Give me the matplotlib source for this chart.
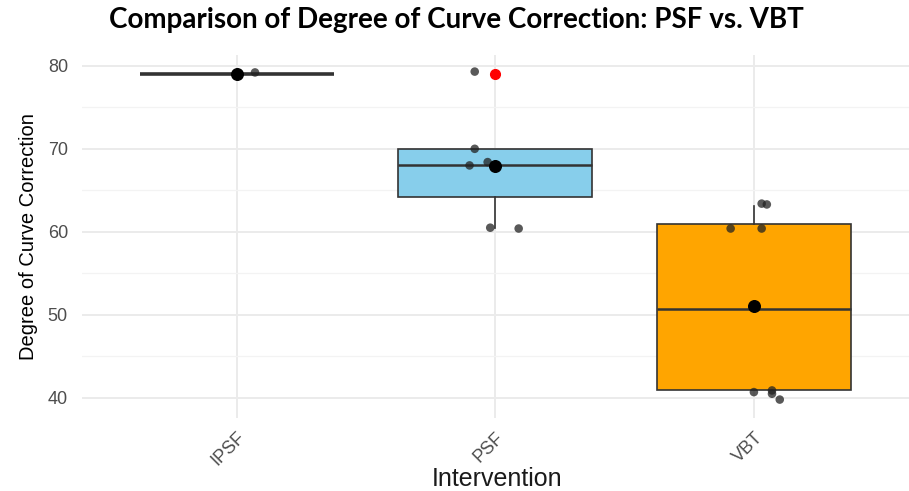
import matplotlib.pyplot as plt

# Data
groups = ["IPSF", "PSF", "VBT"]
q1 = [79.0, 64.2, 40.9]
medians = [79.0, 68.0, 50.7]
q3 = [79.0, 70.0, 61.0]
whisker_lo = [79.0, 60.5, 40.9]
whisker_hi = [79.0, 70.0, 63.1]
outliers = [[], [79.0], []]
means = [79.0, 67.9, 51.1]

# jittered observations: group index, horizontal jitter, value
obs_group = [0, 0, 1, 1, 1, 1, 1, 1, 2, 2, 2, 2, 2, 2, 2, 2]
obs_jitter = [0.0, 0.07, -0.08, -0.08, -0.10, -0.03, 0.09, -0.02,
              0.03, 0.05, -0.09, 0.03, 0.0, 0.07, 0.07, 0.10]
obs_values = [79.0, 79.2, 79.3, 70.0, 68.0, 68.4, 60.4, 60.5,
              63.4, 63.3, 60.4, 60.4, 40.7, 40.9, 40.5, 39.8]

box_colors = ["#FFFFFF", "#87CEEB", "#FFA500"]

plt.rcParams["font.family"] = "Liberation Sans"

fig = plt.figure(figsize=(9.09, 4.91), dpi=100)
ax = fig.add_axes([0.090, 0.149, 0.91, 0.739])

stats = []
for i, g in enumerate(groups):
    stats.append(dict(label=g, q1=q1[i], med=medians[i], q3=q3[i],
                      whislo=whisker_lo[i], whishi=whisker_hi[i],
                      fliers=outliers[i]))

pos = [1, 2, 3]
bp = ax.bxp(stats, positions=pos, widths=0.75, patch_artist=True,
            showcaps=False, zorder=2,
            boxprops=dict(edgecolor="#333333", linewidth=1.2),
            whiskerprops=dict(color="#333333", linewidth=1.2),
            medianprops=dict(color="#333333", linewidth=1.8),
            flierprops=dict(marker="o", markerfacecolor="red",
                            markeredgecolor="red", markersize=7))
for patch, c in zip(bp["boxes"], box_colors):
    patch.set_facecolor(c)
bp["medians"][0].set_linewidth(2.6)

xs = [pos[g] + j for g, j in zip(obs_group, obs_jitter)]
ax.scatter(xs, obs_values, s=38, color="#222222", alpha=0.75,
           edgecolors="none", zorder=3)
ax.scatter(pos, means, s=70, color="black", zorder=4)

ax.set_xlim(0.4, 3.6)
ax.set_ylim(37.6, 81.3)
ax.set_xticks(pos)
ax.set_xticklabels(groups, rotation=45, ha="right", rotation_mode="anchor")
ax.set_yticks([40, 50, 60, 70, 80])
ax.set_yticks([45, 55, 65, 75], minor=True)
ax.tick_params(axis="both", which="both", length=0, labelsize=13,
               labelcolor="#4D4D4D")
ax.tick_params(axis="x", pad=8)
ax.tick_params(axis="y", pad=10)
ax.grid(which="major", color="#EBEBEB", linewidth=1.4, zorder=0)
ax.grid(which="minor", axis="y", color="#F3F3F3", linewidth=0.9, zorder=0)
ax.set_axisbelow(True)
for s in ax.spines.values():
    s.set_visible(False)

ax.set_xlabel("Intervention", fontsize=18, color="#1A1A1A")
ax.xaxis.set_label_coords(0.502, -0.135)
ax.set_ylabel("Degree of Curve Correction", fontsize=14.5)
ax.yaxis.set_label_coords(-0.053, 0.5)
fig.suptitle("Comparison of Degree of Curve Correction: PSF vs. VBT",
             fontsize=20, fontweight="bold", fontfamily="Lato",
             x=0.502, y=0.985)

fig.savefig("out.png", dpi=100)
